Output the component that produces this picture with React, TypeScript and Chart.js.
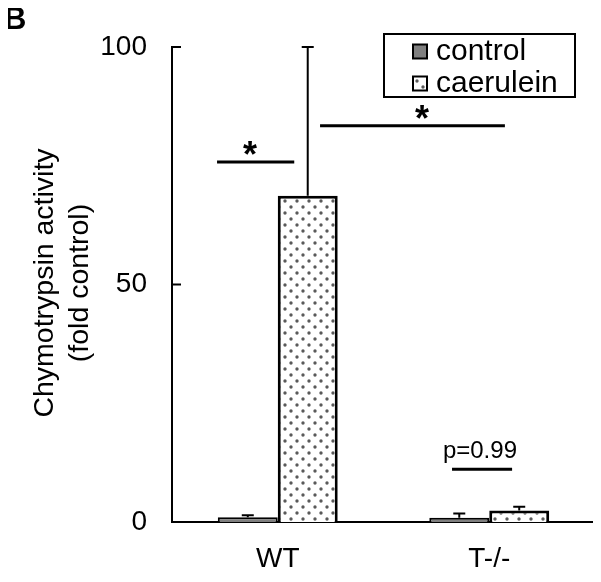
import React, { useEffect, useRef } from 'react';
import { Chart, registerables } from 'chart.js';

Chart.register(...registerables);

const categories = ['WT', 'T-/-'];
const seriesNames = ['control', 'caerulein'];
const controlValues = [1.0, 0.9];
const controlErrors = [0.4, 0.9];
const caeruleinValues = [68.7, 2.4];
const caeruleinErrors = [31.3, 0.8];
const yTicks = [0, 50, 100];
const yTitle = ['Chymotrypsin activity', '(fold control)'];
const panelLabel = 'B';
// significance annotations: x in category-index units, y in data units
const sigFrom = [-0.287, 0.2, 0.824];
const sigTo = [0.078, 1.074, 1.108];
const sigY = [75.8, 83.4, 11.1];
const sigText = ['*', '*', 'p=0.99'];
const sigTextX = [-0.131, 0.682, 0.956];

const FONT = '"Liberation Sans", Arial, Helvetica, sans-serif';
const GRAY = '#7f7f7f';

function makeDotPattern(ctx: CanvasRenderingContext2D) {
  const c = document.createElement('canvas');
  c.width = 12;
  c.height = 12;
  const p = c.getContext('2d')!;
  p.fillStyle = '#ffffff';
  p.fillRect(0, 0, 12, 12);
  p.fillStyle = '#5a5a5a';
  p.beginPath();
  p.arc(3, 3, 1.7, 0, Math.PI * 2);
  p.arc(9, 9, 1.7, 0, Math.PI * 2);
  p.fill();
  return ctx.createPattern(c, 'repeat') as CanvasPattern;
}

export default function App() {
  const ref = useRef<HTMLCanvasElement | null>(null);

  useEffect(() => {
    const canvas = ref.current!;
    const ctx0 = canvas.getContext('2d')!;
    const dots = makeDotPattern(ctx0);
    const errors = [controlErrors, caeruleinErrors];

    const overlay = {
      id: 'overlay',
      afterDatasetsDraw(chart: any) {
        const ctx = chart.ctx as CanvasRenderingContext2D;
        const ys = chart.scales.y;
        ctx.save();
        ctx.strokeStyle = '#000';
        ctx.lineWidth = 2;
        chart.data.datasets.forEach((ds: any, di: number) => {
          const meta = chart.getDatasetMeta(di);
          meta.data.forEach((bar: any, i: number) => {
            const v = ds.data[i];
            const e = errors[di][i];
            const px = bar.x;
            const top = ys.getPixelForValue(v);
            const end = ys.getPixelForValue(v + e);
            ctx.beginPath();
            ctx.moveTo(px, top);
            ctx.lineTo(px, end);
            ctx.moveTo(px - 6, end);
            ctx.lineTo(px + 6, end);
            ctx.stroke();
          });
        });
        ctx.restore();
      },
      afterDraw(chart: any) {
        const ctx = chart.ctx as CanvasRenderingContext2D;
        const xs = chart.scales.x;
        const ys = chart.scales.y;
        const area = chart.chartArea;
        ctx.save();
        // inward y ticks
        ctx.strokeStyle = '#000';
        ctx.lineWidth = 2;
        yTicks.forEach((t) => {
          const py = ys.getPixelForValue(t);
          ctx.beginPath();
          ctx.moveTo(area.left, py);
          ctx.lineTo(area.left + 9, py);
          ctx.stroke();
        });
        // significance annotations
        ctx.lineWidth = 3;
        ctx.fillStyle = '#000';
        for (let i = 0; i < sigY.length; i++) {
          const py = ys.getPixelForValue(sigY[i]);
          ctx.beginPath();
          ctx.moveTo(xs.getPixelForValue(sigFrom[i]), py);
          ctx.lineTo(xs.getPixelForValue(sigTo[i]), py);
          ctx.stroke();
          const star = sigText[i] === '*';
          ctx.font = star ? `bold 36px ${FONT}` : `24px ${FONT}`;
          ctx.textAlign = 'center';
          ctx.textBaseline = 'alphabetic';
          ctx.fillText(sigText[i], xs.getPixelForValue(sigTextX[i]), star ? py + 5 : py - 11);
        }
        // legend
        ctx.lineWidth = 2;
        ctx.strokeRect(384, 34, 191, 63);
        const items = [
          { fill: GRAY as any, y: 51.5, label: seriesNames[0] },
          { fill: dots as any, y: 83.5, label: seriesNames[1] },
        ];
        items.forEach((it) => {
          ctx.fillStyle = it.fill;
          ctx.fillRect(413, it.y - 7, 14, 14);
          ctx.lineWidth = 2;
          ctx.strokeStyle = '#000';
          ctx.strokeRect(413, it.y - 7, 14, 14);
          ctx.fillStyle = '#000';
          ctx.font = `30px ${FONT}`;
          ctx.textAlign = 'left';
          ctx.textBaseline = 'middle';
          ctx.fillText(it.label, 436, it.y);
        });
        // y title
        ctx.save();
        ctx.translate(0, 283);
        ctx.rotate(-Math.PI / 2);
        ctx.font = `28.5px ${FONT}`;
        ctx.textAlign = 'center';
        ctx.textBaseline = 'middle';
        ctx.fillText(yTitle[0], 0, 45);
        ctx.fillText(yTitle[1], 0, 80);
        ctx.restore();
        // panel label
        ctx.font = `bold 31px ${FONT}`;
        ctx.textAlign = 'left';
        ctx.textBaseline = 'alphabetic';
        ctx.fillText(panelLabel, 4, 29);
        ctx.restore();
      },
    };

    const chart = new Chart(canvas, {
      type: 'bar',
      data: {
        labels: categories,
        datasets: [
          {
            label: seriesNames[0],
            data: controlValues,
            backgroundColor: GRAY,
            borderColor: '#000',
            borderWidth: 2,
          },
          {
            label: seriesNames[1],
            data: caeruleinValues,
            backgroundColor: dots,
            borderColor: '#000',
            borderWidth: 3,
          },
        ],
      },
      options: {
        animation: false,
        responsive: false,
        maintainAspectRatio: false,
        layout: { padding: { top: 47, right: 6, left: 0, bottom: 0 } },
        plugins: { legend: { display: false }, tooltip: { enabled: false } },
        datasets: { bar: { barPercentage: 1, categoryPercentage: 0.567 } },
        scales: {
          x: {
            grid: { display: false, drawTicks: false, tickLength: 0 },
            border: { display: true, color: '#000', width: 2 },
            ticks: { color: '#000', font: { family: FONT, size: 28 }, padding: 20 },
            afterFit: (s: any) => {
              s.height = 60;
            },
          },
          y: {
            min: 0,
            max: 100,
            afterBuildTicks: (s: any) => {
              s.ticks = yTicks.map((v) => ({ value: v }));
            },
            grid: { display: false, drawTicks: false, tickLength: 0 },
            border: { display: true, color: '#000', width: 2 },
            ticks: { color: '#000', font: { family: FONT, size: 28 }, padding: 25 },
            afterFit: (s: any) => {
              s.width = 172;
            },
          },
        },
      },
      plugins: [overlay],
    } as any);
    return () => chart.destroy();
  }, []);

  return (
    <div style={{ margin: '-8px', width: 601, height: 582, position: 'relative' }}>
      <canvas ref={ref} width={601} height={582} style={{ display: 'block', width: 601, height: 582 }} />
    </div>
  );
}
